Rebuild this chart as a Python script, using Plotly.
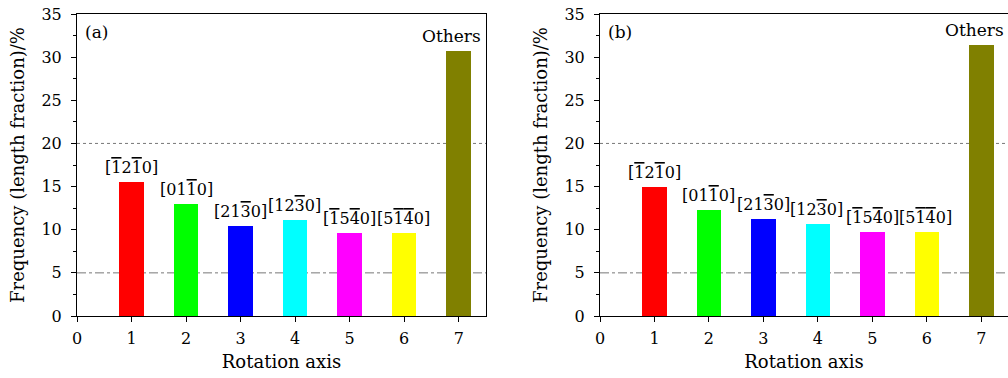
import plotly.graph_objects as go

axes_x = [1, 2, 3, 4, 5, 6, 7]


def ob(d):
    return "<span style='text-decoration:overline'>" + d + "</span>"


labels = ["[" + ob("1") + "2" + ob("1") + "0]", "[01" + ob("1") + "0]", "[21" + ob("3") + "0]",
          "[12" + ob("3") + "0]", "[" + ob("1") + "5" + ob("4") + "0]", "[5" + ob("1") + ob("4") + "0]",
          "Others"]
colors = ["#ff0000", "#00ff00", "#0000ff", "#00ffff", "#ff00ff", "#ffff00", "#808000"]
values_a = [15.5, 13.0, 10.4, 11.1, 9.6, 9.6, 30.7]
values_b = [15.0, 12.3, 11.3, 10.7, 9.7, 9.7, 31.4]
panel_tags = ["(a)", "(b)"]

FONT = "DejaVu Serif"
FS = 16
label_sizes = [16, 16, 16, 16, 16, 16, 17]
label_xshift = [0, 0, 0, -1, 0, -1, -7]

fig = go.Figure()
for i, vals in enumerate([values_a, values_b]):
    xa = "x" if i == 0 else "x2"
    ya = "y" if i == 0 else "y2"
    fig.add_trace(go.Bar(
        x=axes_x, y=vals, width=0.45, marker=dict(color=colors, line=dict(width=0)),
        xaxis=xa, yaxis=ya, showlegend=False, hoverinfo="skip"))
    for k in range(len(axes_x)):
        fig.add_annotation(x=axes_x[k], y=vals[k], xref=xa, yref=ya, text=labels[k],
                           showarrow=False, xanchor="center", yanchor="bottom",
                           yshift=3, xshift=label_xshift[k],
                           font=dict(family=FONT, size=label_sizes[k], color="black"))

common_x = dict(range=[0, 7.5], tickmode="array", tickvals=list(range(0, 8)),
                ticks="outside", ticklen=5, tickwidth=1, tickcolor="black",
                ticklabelstandoff=3,
                showline=True, linecolor="black", linewidth=1, mirror=True,
                showgrid=False, zeroline=False,
                tickfont=dict(family=FONT, size=FS, color="black"),
                title=dict(text="Rotation axis", font=dict(family=FONT, size=18, color="black"), standoff=8))
common_y = dict(range=[0, 35], tickmode="linear", tick0=0, dtick=5,
                ticks="outside", ticklen=5, tickwidth=1, tickcolor="black",
                ticklabelstandoff=6,
                minor=dict(ticks="outside", ticklen=3, dtick=2.5, tickcolor="black", showgrid=False),
                showline=True, linecolor="black", linewidth=1, mirror=True,
                showgrid=False, zeroline=False,
                tickfont=dict(family=FONT, size=FS, color="black"),
                title=dict(text="Frequency (length fraction)/%", font=dict(family=FONT, size=18, color="black"), standoff=12))

# plot area: x 77..1008 px, y 14..316 px of a 1008x378 page
fig.update_layout(
    width=1008, height=378,
    margin=dict(l=77, r=0, t=14, b=62),
    plot_bgcolor="white", paper_bgcolor="white",
    bargap=0,
    xaxis=dict(domain=[0, 409 / 931], anchor="y", **common_x),
    yaxis=dict(domain=[0, 1], anchor="x", **common_y),
    xaxis2=dict(domain=[523 / 931, 1], anchor="y2", **common_x),
    yaxis2=dict(domain=[0, 1], anchor="x2", **common_y),
)
fig.update_layout(xaxis2_range=[0, 7.49])

for i, (xr, yr) in enumerate([("x domain", "y"), ("x2 domain", "y2")]):
    fig.add_shape(type="line", xref=xr, yref=yr, x0=0, x1=1, y0=20, y1=20,
                  line=dict(color="#777777", width=1, dash="dot"), layer="below")
    fig.add_shape(type="line", xref=xr, yref=yr, x0=0, x1=1, y0=5, y1=5,
                  line=dict(color="#777777", width=1, dash="dashdot"), layer="below")
    fig.add_annotation(xref=xr, yref=(yr + " domain"), x=0.015, y=0.98, text=panel_tags[i],
                       showarrow=False, xanchor="left", yanchor="top",
                       font=dict(family=FONT, size=17, color="black"))

fig.write_html("out.html", config={"displayModeBar": False},
               post_script="document.body.style.margin='0';document.body.style.overflow='hidden';")
